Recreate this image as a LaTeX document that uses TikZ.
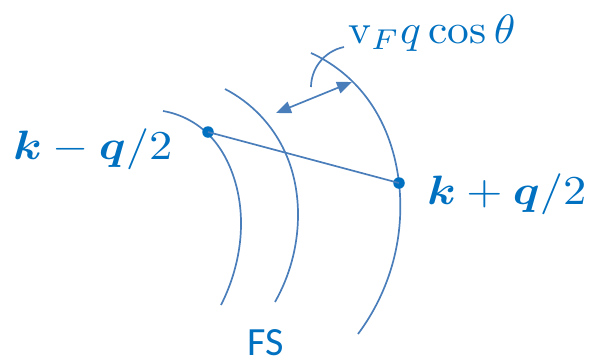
\documentclass[tikz,border=0pt]{standalone}
\usepackage{fontspec}
\usepackage{amsmath}
\usepackage{bm}
\newfontfamily\fsfont{Carlito}
\usetikzlibrary{arrows.meta,hobby}
\definecolor{txtblue}{HTML}{0070C0}
\definecolor{lineblue}{HTML}{4A7EBB}
\begin{document}
\begin{tikzpicture}[x=1pt,y=-1pt,
  fsline/.style={draw=lineblue, line width=1.7pt},
  kdot/.style={circle, fill=txtblue, inner sep=0pt, minimum size=11.5pt},
  lbl/.style={text=txtblue, inner sep=0pt, anchor=base west},
  dbl/.style={draw=lineblue, line width=1.7pt, {Triangle[length=15pt,width=12pt]}-{Triangle[length=15pt,width=12pt]}}]
\useasboundingbox (0,0) rectangle (598,362);
% Fermi surface arcs
\draw[fsline, use Hobby shortcut] (163,111) .. (207,133) .. (233,175) .. (241,227) .. (234,272) .. (221,305);
\draw[fsline, use Hobby shortcut] (225,89) .. (285,152) .. (298,217) .. (275,302);
\draw[fsline, use Hobby shortcut] (311,53) .. (363,93) .. (399,183) .. (393,262) .. (358,334);
% small angle arc
\draw[fsline, use Hobby shortcut] (311,87) .. (319,63) .. (344,47);
% double arrow
\coordinate (a1) at (276,113);
\coordinate (a2) at (352,82);
\draw[dbl] (a1) -- (a2);
% k points
\node[kdot] (k1) at (208,132) {};
\node[kdot] (k2) at (399,183) {};
\draw[fsline] (k1.center) -- (k2.center);
% labels
\node[lbl] (l1) at (13,159) {\scalebox{4.65}[4.1]{$\bm{k}-\bm{q}/2$}};
\node[lbl] (l2) at (427,204) {\scalebox{4.65}[4.1]{$\bm{k}+\bm{q}/2$}};
\node[lbl] (l3) at (348,43) {\scalebox{4.35}[4.1]{$\mathrm{v}_F q\cos\theta$}};
\node[lbl] (fs) at (247,355) {\fsfont\fontsize{40}{44}\selectfont FS};
\end{tikzpicture}
\end{document}
